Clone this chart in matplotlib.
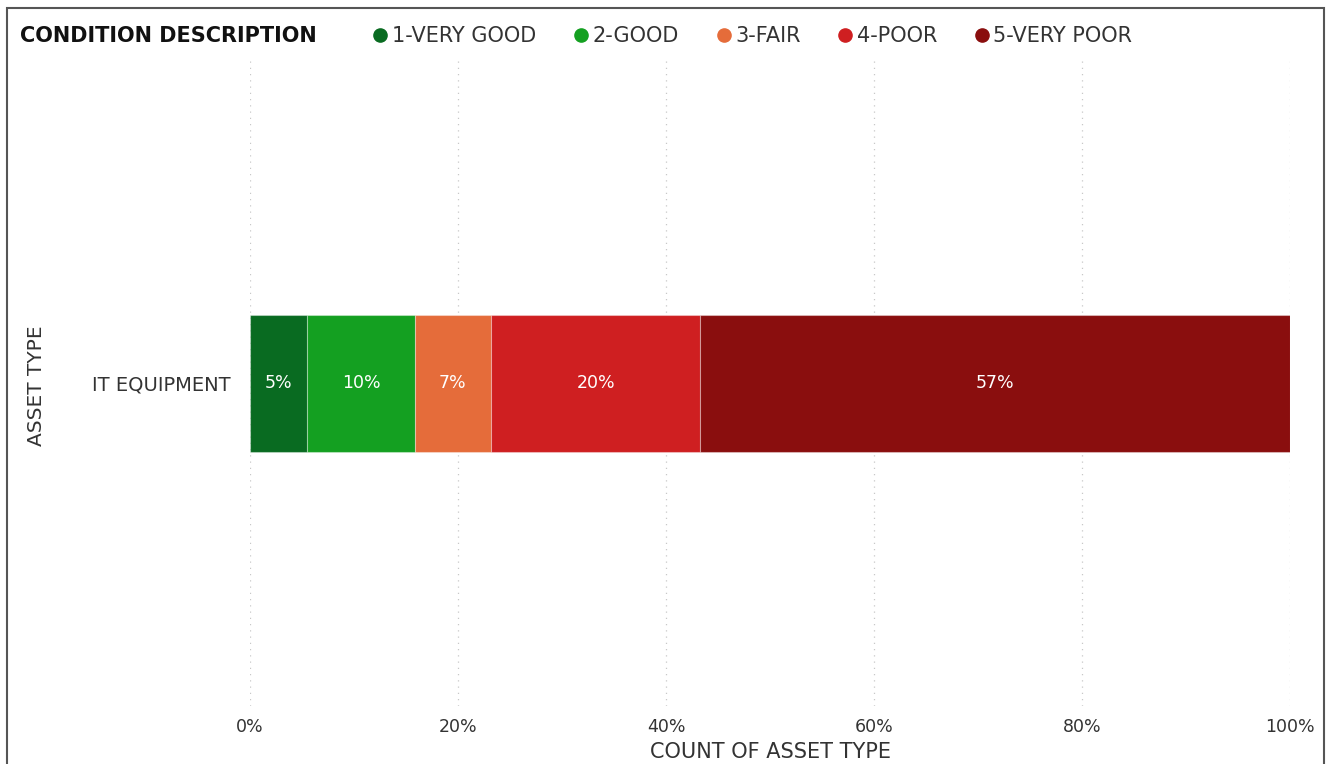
import matplotlib.pyplot as plt
from matplotlib.lines import Line2D
from matplotlib.patches import Rectangle

# data
asset_types = ['IT EQUIPMENT']
conditions = ['1-VERY GOOD', '2-GOOD', '3-FAIR', '4-POOR', '5-VERY POOR']
counts = [9, 17, 12, 33, 93]
colors = ['#096b21', '#14a021', '#e56c3a', '#cf1f21', '#8a0e0e']
x_ticks = [0, 20, 40, 60, 80, 100]

total = sum(counts)
shares = [c / total * 100 for c in counts]

plt.rcParams['font.family'] = ['DejaVu Sans']

fig = plt.figure(figsize=(13.26, 7.64), dpi=100)
ax = fig.add_axes([250 / 1326, 1 - 706 / 764, 1040 / 1326, 645 / 764])

left = 0
for cond, val, col in zip(conditions, shares, colors):
    ax.barh(asset_types, [val], left=[left], height=0.212, color=col,
            edgecolor=(1, 1, 1, 0.35), linewidth=0.8, zorder=3)
    ax.text(left + val / 2, 0, f'{val:.0f}%', ha='center', va='center',
            color='white', fontsize=12.5, zorder=4)
    left += val

ax.set_xlim(0, 100)
ax.set_ylim(-0.5, 0.5)
ax.set_xticks(x_ticks)
ax.set_xticklabels([f'{t}%' for t in x_ticks], color='#333333', fontsize=12.5)
ax.tick_params(axis='x', length=0, pad=9)
ax.tick_params(axis='y', length=0, pad=14, labelsize=14, labelcolor='#333333')
ax.grid(axis='x', color='#c8c8c8', linestyle=(0, (1, 4)), linewidth=0.9, zorder=0)
for s in ax.spines.values():
    s.set_visible(False)

ax.set_xlabel('COUNT OF ASSET TYPE', fontsize=15, color='#333333', labelpad=4)
fig.text(36 / 1326, 1 - 386 / 764, 'ASSET TYPE', rotation=90, ha='center',
         va='center', fontsize=14.5, color='#333333')

# legend
fig.text(20 / 1326, 1 - 36 / 764, 'CONDITION DESCRIPTION', fontsize=15,
         fontweight='bold', color='#111111', va='center', ha='left')
handles = [Line2D([], [], marker='o', linestyle='', markersize=9.5,
                  markerfacecolor=c, markeredgecolor=c) for c in colors]
leg = fig.legend(handles, conditions, loc='center left', ncol=5,
                 bbox_to_anchor=(369 / 1326, 1 - 36 / 764), frameon=False,
                 fontsize=15, handletextpad=0.0, columnspacing=1.6,
                 handlelength=1.1, borderaxespad=0, borderpad=0)
for t in leg.get_texts():
    t.set_color('#333333')

# frame around the visual
fig.patches.append(Rectangle((7 / 1326, -0.01), 1317 / 1326, 1 - 8 / 764 + 0.01,
                             transform=fig.transFigure, fill=False,
                             edgecolor='#555555', linewidth=1.5))

fig.savefig('out.png', dpi=100)
